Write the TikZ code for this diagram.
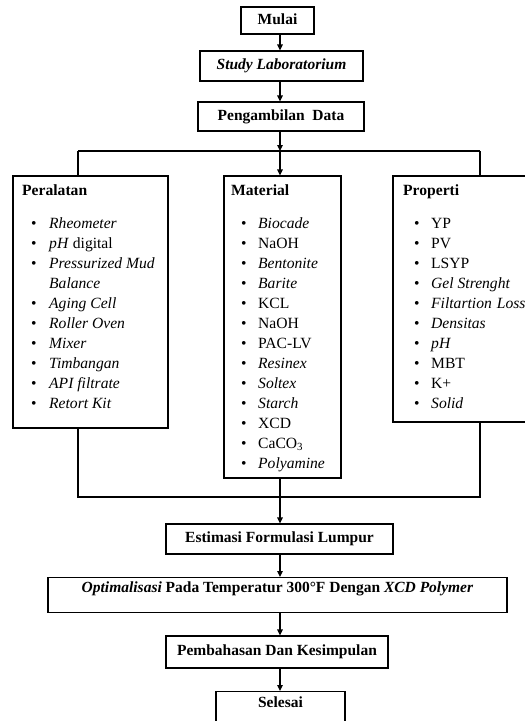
\documentclass[tikz,border=0pt]{standalone}
\usepackage{fontspec}
\setmainfont{Liberation Serif}
\usetikzlibrary{arrows.meta}
\begin{document}
\begin{tikzpicture}[x=1pt,y=-1pt,
  box/.style={draw,line width=1.1pt,inner xsep=0pt,inner ysep=0pt,text height=10.5pt,text depth=3.5pt,font=\fontsize{15.5}{18}\selectfont\bfseries},
  panel/.style={draw,line width=1.1pt,inner sep=0pt},
  conn/.style={line width=1.1pt},
  arr/.style={conn,-{Triangle[length=6pt,width=5.5pt]}},
  items/.style={anchor=base west,inner sep=0pt,font=\fontsize{15.6}{20}\selectfont},
  head/.style={anchor=base west,inner sep=0pt,font=\fontsize{15.6}{18}\selectfont\bfseries}]
\useasboundingbox (0,0) rectangle (525,721);
\clip (0,0) rectangle (525,721);
\fill[white] (0,0) rectangle (525,721);

% top boxes
\node[box,minimum width=73pt,minimum height=27pt] (mulai) at (277.5,20.5) {Mulai};
\node[box,minimum width=163pt,minimum height=30pt] (study) at (281.5,66) {\textit{Study Laboratorium}};
\node[box,minimum width=166pt,minimum height=29pt] (data) at (281,116.5) {Pengambilan\ \ Data};

% panels
\node[panel,minimum width=155pt,minimum height=252pt] (alat) at (90.5,302) {};
\node[panel,minimum width=117pt,minimum height=302pt] (mat) at (282.5,327) {};
\node[panel,minimum width=140pt,minimum height=246pt] (prop) at (463,299) {};

\node[head] (halat) at (22,195) {Peralatan};
\node[head] (hmat) at (231,195) {Material};
\node[head] (hprop) at (403,195) {Properti};

\node[items] (lalat) at (31,228) {\begin{tabular}[t]{@{}p{18pt}@{}l@{}}
\textbullet & \textit{Rheometer}\\
\textbullet & \textit{pH} digital\\
\textbullet & \textit{Pressurized Mud}\\
 & \textit{Balance}\\
\textbullet & \textit{Aging Cell}\\
\textbullet & \textit{Roller Oven}\\
\textbullet & \textit{Mixer}\\
\textbullet & \textit{Timbangan}\\
\textbullet & \textit{API filtrate}\\
\textbullet & \textit{Retort Kit}
\end{tabular}};

\node[items] (lmat) at (241,228) {\begin{tabular}[t]{@{}p{17pt}@{}l@{}}
\textbullet & \textit{Biocade}\\
\textbullet & NaOH\\
\textbullet & \textit{Bentonite}\\
\textbullet & \textit{Barite}\\
\textbullet & KCL\\
\textbullet & NaOH\\
\textbullet & PAC-LV\\
\textbullet & \textit{Resinex}\\
\textbullet & \textit{Soltex}\\
\textbullet & \textit{Starch}\\
\textbullet & XCD\\
\textbullet & CaCO\textsubscript{3}\\
\textbullet & \textit{Polyamine}
\end{tabular}};

\node[items] (lprop) at (414,228) {\begin{tabular}[t]{@{}p{17pt}@{}l@{}}
\textbullet & YP\\
\textbullet & PV\\
\textbullet & LSYP\\
\textbullet & \textit{Gel Strenght}\\
\textbullet & \textit{Filtartion\hspace{5pt}Loss}\\
\textbullet & \textit{Densitas}\\
\textbullet & \textit{pH}\\
\textbullet & MBT\\
\textbullet & K+\\
\textbullet & \textit{Solid}
\end{tabular}};

% bottom boxes
\node[box,minimum width=227pt,minimum height=30pt] (est) at (279.5,539) {Estimasi Formulasi Lumpur};
\node[box,anchor=north,minimum width=459pt,inner ysep=4.5pt,text depth=15.5pt] (opt) at (277.5,577) {\textit{Optimalisasi} Pada Temperatur 300°F Dengan \textit{XCD Polymer}};
\node[box,minimum width=222pt,minimum height=32pt] (bahas) at (277,652) {Pembahasan Dan Kesimpulan};
\node[box,anchor=north,minimum width=129pt,inner ysep=5.5pt,text depth=22pt] (selesai) at (280.5,691) {Selesai};

% connectors
\coordinate (spine) at (280,0);
\coordinate (jtop) at (280,151);
\coordinate (jl) at (78,151);
\coordinate (jr) at (480,151);
\coordinate (bl) at (78,497);
\coordinate (br) at (480,497);

\draw[arr] (mulai.south -| spine) -- (study.north -| spine);
\draw[arr] (study.south -| spine) -- (data.north -| spine);
\draw[arr] (data.south -| spine) -- (jtop);
\draw[conn] (jl) -- (jr);
\draw[arr] (jtop) -- (mat.north -| spine);
\draw[conn] (jl) -- (alat.north -| jl);
\draw[conn] (jr) -- (prop.north -| jr);
\draw[conn] (alat.south -| bl) -- (bl) -- (br) -- (prop.south -| br);
\draw[arr] (mat.south -| spine) -- (est.north -| spine);
\draw[arr] (est.south -| spine) -- (opt.north -| spine);
\draw[arr] (opt.south -| spine) -- (bahas.north -| spine);
\draw[arr] (bahas.south -| spine) -- (selesai.north -| spine);
\end{tikzpicture}
\end{document}
